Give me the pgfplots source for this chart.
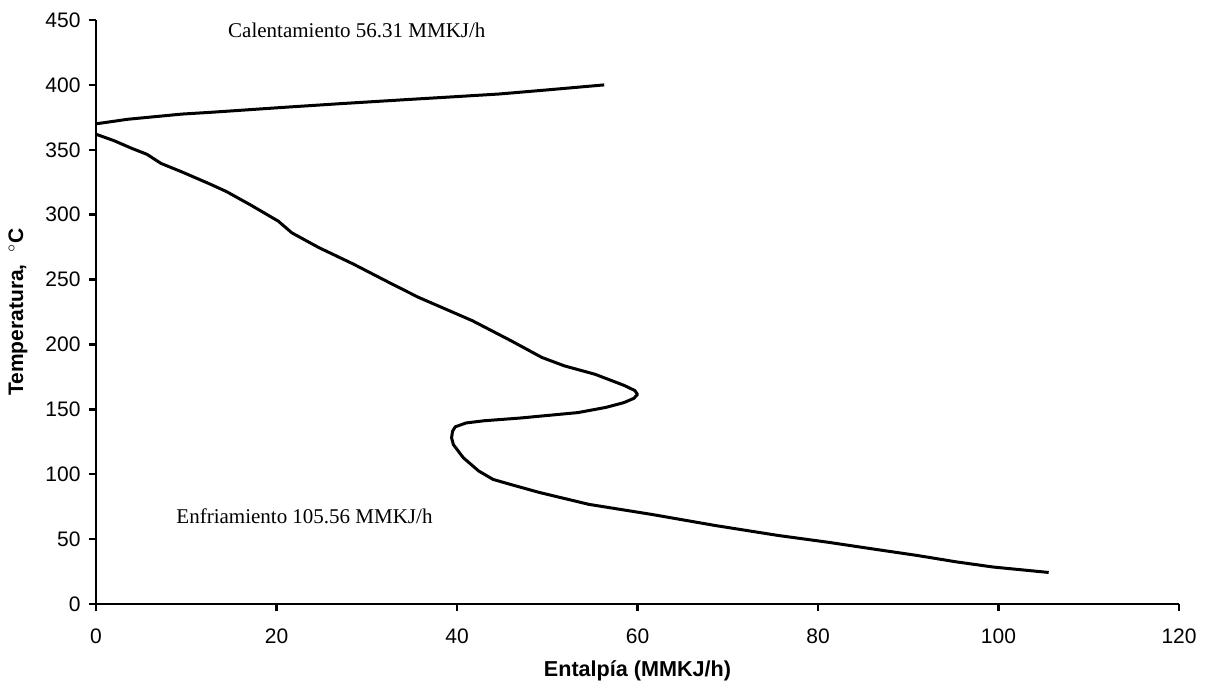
\documentclass[border=0pt]{standalone}
\usepackage{fontspec}
\setmainfont{Liberation Sans}
\newfontfamily\timesf{Liberation Serif}
\usepackage{pgfplots}
\pgfplotsset{compat=1.18}

\pgfplotstableread{
x T
0 370
3.5 373.5
9.5 377.5
13 379
20.8 382.7
27 385.5
34 388.5
40 391
44.7 393
50.6 396.5
56.31 400
}\hot

\pgfplotstableread{
x T
0 362
2 357
4 351
5.65 346.5
7.2 339.5
9.5 333
12.5 324
14.4 318
17.1 307.6
20.2 295
21.7 286
24.7 274.6
28.5 262
32.4 248
35.7 236.4
41.7 218.3
46 202.8
49.4 190
51.9 183.5
55.3 177
58.5 168.5
59.7 164.5
60 161.5
59.6 158.5
58.5 155.2
56.5 151.5
53.4 147.5
47 143.3
43 141.2
41 139.5
39.8 136.5
39.5 133
39.4 128
39.6 122.8
40.7 112.7
42.4 102.5
44 96
46 92
49.1 86
54.6 76.8
61.6 69
68.6 60.5
75.6 52.8
81.2 47.5
86.1 42.4
91 37.4
95.3 32.5
99.4 28.5
105.56 24.3
}\cold

\begin{document}
\begin{tikzpicture}
\begin{axis}[
  at={(48pt,41.5pt)}, anchor=south west,
  scale only axis, width=541.5pt, height=292pt,
  xmin=0, xmax=120, ymin=0, ymax=450,
  xtick={0,20,...,120}, ytick={0,50,...,450},
  axis x line*=bottom, axis y line*=left,
  axis line style={line width=1.2pt, -},
  tick align=outside, major tick length=3.5pt,
  tick style={line width=1.2pt, black},
  clip=false,
  /pgf/number format/assume math mode=true,
  ticklabel style={font=\fontsize{10.5}{12}\selectfont},
  xticklabel style={yshift=-5.5pt},
  yticklabel style={xshift=-0.7pt},
  xlabel={Entalpía (MMKJ/h)},
  xlabel style={font=\fontsize{10.8}{12}\selectfont\bfseries, at={(axis description cs:0.5,0)}, anchor=center, yshift=-33.5pt},
  ylabel={Temperatura,~~$^{\circ}$C},
  ylabel style={font=\fontsize{10.5}{12}\selectfont\bfseries, at={(axis description cs:-0.072,0.5)}, anchor=center},
]
\addplot[black, line width=1.5pt, line join=round] table[x=x, y=T] {\hot};
\addplot[black, line width=1.5pt, line join=round] table[x=x, y=T] {\cold};
\node[font=\timesf\fontsize{10.5}{12}\selectfont] at (axis cs:28.9,442) {Calentamiento 56.31 MMKJ/h};
\node[font=\timesf\fontsize{10.5}{12}\selectfont] at (axis cs:23.1,68) {Enfriamiento 105.56 MMKJ/h};
\end{axis}
\pgfresetboundingbox
\path (0,0) rectangle (604pt,343.5pt);
\end{tikzpicture}
\end{document}
